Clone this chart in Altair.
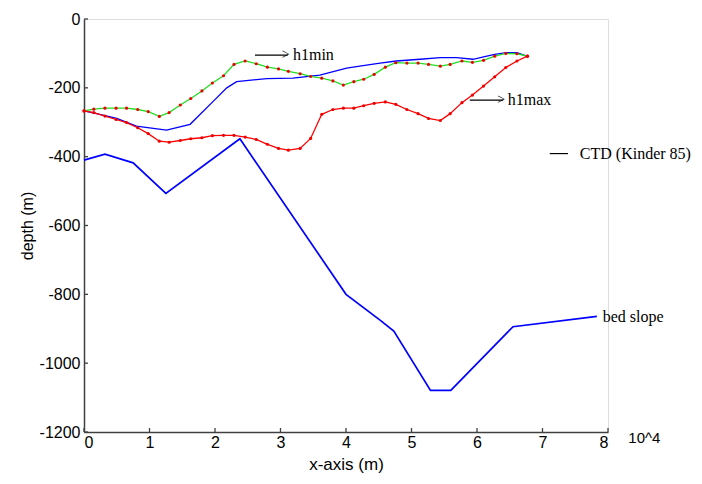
import altair as alt
import pandas as pd

# ---- data (x in units of 10^4 m, depth in m) ----
h1min_x = [0, 0.15, 0.32, 0.49, 0.65, 0.82, 0.98, 1.15, 1.30, 1.47, 1.63, 1.80, 1.96, 2.13,
           2.29, 2.46, 2.63, 2.80, 2.97, 3.12, 3.30, 3.46, 3.63, 3.80, 3.96, 4.12, 4.27, 4.43,
           4.60, 4.76, 4.93, 5.10, 5.26, 5.44, 5.59, 5.77, 5.93, 6.10, 6.27, 6.44, 6.61, 6.77]
h1min_y = [-267, -262, -259, -259, -259, -263, -269, -283, -272, -250, -231, -209, -186, -165,
           -132, -122, -130, -140, -145, -152, -159, -167, -172, -180, -192, -182, -175, -161,
           -140, -127, -128, -128, -132, -137, -132, -122, -126, -120, -108, -100, -101, -108]
h1max_x = h1min_x
h1max_y = [-267, -272, -282, -292, -301, -316, -333, -355, -358, -353, -348, -345, -339, -338,
           -338, -343, -350, -364, -376, -381, -376, -347, -277, -263, -259, -259, -252, -245,
           -241, -248, -263, -275, -289, -295, -275, -243, -221, -195, -168, -141, -122, -108]
ctd_x = [0, 0.24, 0.50, 0.80, 1.26, 1.62, 1.98, 2.18, 2.33, 2.79, 3.19, 3.60, 4.01, 4.21,
         4.52, 4.77, 5.13, 5.44, 5.69, 5.94, 6.10, 6.27, 6.45, 6.61, 6.76]
ctd_y = [-267, -277, -289, -311, -323, -306, -238, -200, -182, -173, -172, -163, -143, -137,
         -128, -122, -117, -112, -112, -117, -110, -103, -98, -98, -108]
bed_x = [0, 0.32, 0.75, 1.25, 2.38, 4.0, 4.52, 4.73, 5.29, 5.6, 6.55, 7.83]
bed_y = [-410, -393, -418, -507, -348, -800, -875, -907, -1079, -1079, -894, -864]

x_ticks = [0, 1, 2, 3, 4, 5, 6, 7, 8]
y_ticks = [-1200, -1000, -800, -600, -400, -200, 0]

ann_text = ["h1min", "h1max", "CTD (Kinder 85)", "bed slope"]
ann_x = [3.19, 6.47, 7.57, 7.92]
ann_y = [-105, -236, -391, -867]
arrow_x1 = [2.61, 5.89]
arrow_x2 = [3.11, 6.40]
arrow_y = [-105, -236]
legend_x1 = [7.11]
legend_x2 = [7.39]
legend_y = [-391]

W, H = 524, 413

xs = alt.Scale(domain=[0, 8], nice=False, zero=False)
ys = alt.Scale(domain=[-1200, 0], nice=False, zero=False)

def line_df(xv, yv):
    return pd.DataFrame({"x": xv, "y": yv})

xenc = alt.X("x:Q", scale=xs, axis=alt.Axis(
    values=x_ticks, labelExpr="'' + datum.value", ticks=False, grid=False, title="x-axis (m)",
    labelFont="Liberation Sans", labelFontSize=16, labelColor="black", labelPadding=2,
    titleFont="Liberation Sans", titleFontSize=17, titleFontWeight="normal", titleColor="black",
    titlePadding=6, domainColor="#404040", domainWidth=1.5))
yenc = alt.Y("y:Q", scale=ys, axis=alt.Axis(
    values=y_ticks, labelExpr="'' + datum.value", ticks=False, grid=False, title="depth (m)",
    labelFont="Liberation Sans", labelFontSize=16, labelColor="black", labelPadding=4,
    titleFont="Liberation Sans", titleFontSize=16, titleFontWeight="normal", titleColor="black",
    titlePadding=4, domainColor="#404040", domainWidth=1.5))

base_axes = alt.Chart(line_df(bed_x, bed_y)).mark_line(color="#0000ff", strokeWidth=1.7).encode(
    x=xenc, y=yenc)

ctd = alt.Chart(line_df(ctd_x, ctd_y)).mark_line(color="#0000ff", strokeWidth=1.3).encode(
    x=alt.X("x:Q", scale=xs), y=alt.Y("y:Q", scale=ys))
green = alt.Chart(line_df(h1min_x, h1min_y)).mark_line(color="#22dd22", strokeWidth=1.3).encode(
    x=alt.X("x:Q", scale=xs), y=alt.Y("y:Q", scale=ys))
red = alt.Chart(line_df(h1max_x, h1max_y)).mark_line(color="#ff0000", strokeWidth=1.3).encode(
    x=alt.X("x:Q", scale=xs), y=alt.Y("y:Q", scale=ys))
dots_df = pd.concat([line_df(h1min_x, h1min_y), line_df(h1max_x, h1max_y)])
dots = alt.Chart(dots_df).mark_circle(color="#ee0000", size=10, opacity=1).encode(
    x=alt.X("x:Q", scale=xs), y=alt.Y("y:Q", scale=ys))

# inward ticks
xt = alt.Chart(pd.DataFrame({"x": x_ticks})).mark_rule(color="#404040", strokeWidth=1.3).encode(
    x=alt.X("x:Q", scale=xs), y=alt.value(H), y2=alt.value(H - 4))
yt = alt.Chart(pd.DataFrame({"y": y_ticks})).mark_rule(color="#404040", strokeWidth=1.3).encode(
    y=alt.Y("y:Q", scale=ys), x=alt.value(0), x2=alt.value(4))

# annotations
arr_df = pd.DataFrame({"x": arrow_x1, "x2": arrow_x2, "y": arrow_y})
arrows = alt.Chart(arr_df).mark_rule(color="black", strokeWidth=1.2).encode(
    x=alt.X("x:Q", scale=xs), x2="x2:Q", y=alt.Y("y:Q", scale=ys))
heads = alt.Chart(arr_df).mark_text(text=">", align="right", baseline="middle",
                                    font="Liberation Serif", fontSize=14, dx=2, dy=0).encode(
    x=alt.X("x2:Q", scale=xs), y=alt.Y("y:Q", scale=ys))
leg = alt.Chart(pd.DataFrame({"x": legend_x1, "x2": legend_x2, "y": legend_y})).mark_rule(
    color="black", strokeWidth=1.2).encode(
    x=alt.X("x:Q", scale=xs), x2="x2:Q", y=alt.Y("y:Q", scale=ys))
texts = alt.Chart(pd.DataFrame({"x": ann_x, "y": ann_y, "t": ann_text})).mark_text(
    align="left", baseline="middle", font="Liberation Serif", fontSize=16, color="black").encode(
    x=alt.X("x:Q", scale=xs), y=alt.Y("y:Q", scale=ys), text="t:N")
exp = alt.Chart(pd.DataFrame({"x": [8.31], "y": [-1218], "t": ["10^4"]})).mark_text(
    align="left", baseline="middle", font="Liberation Sans", fontSize=15, color="black").encode(
    x=alt.X("x:Q", scale=xs), y=alt.Y("y:Q", scale=ys), text="t:N")

chart = alt.layer(base_axes, ctd, green, red, dots, xt, yt, arrows, heads, leg, texts, exp).properties(
    width=W, height=H,
    autosize=alt.AutoSizeParams(type="none"),
    padding={"left": 76, "top": 11, "right": 86, "bottom": 44},
).configure_view(stroke=None).configure(background="white")

chart.save("out.html", embed_options={"renderer": "svg", "actions": False})
